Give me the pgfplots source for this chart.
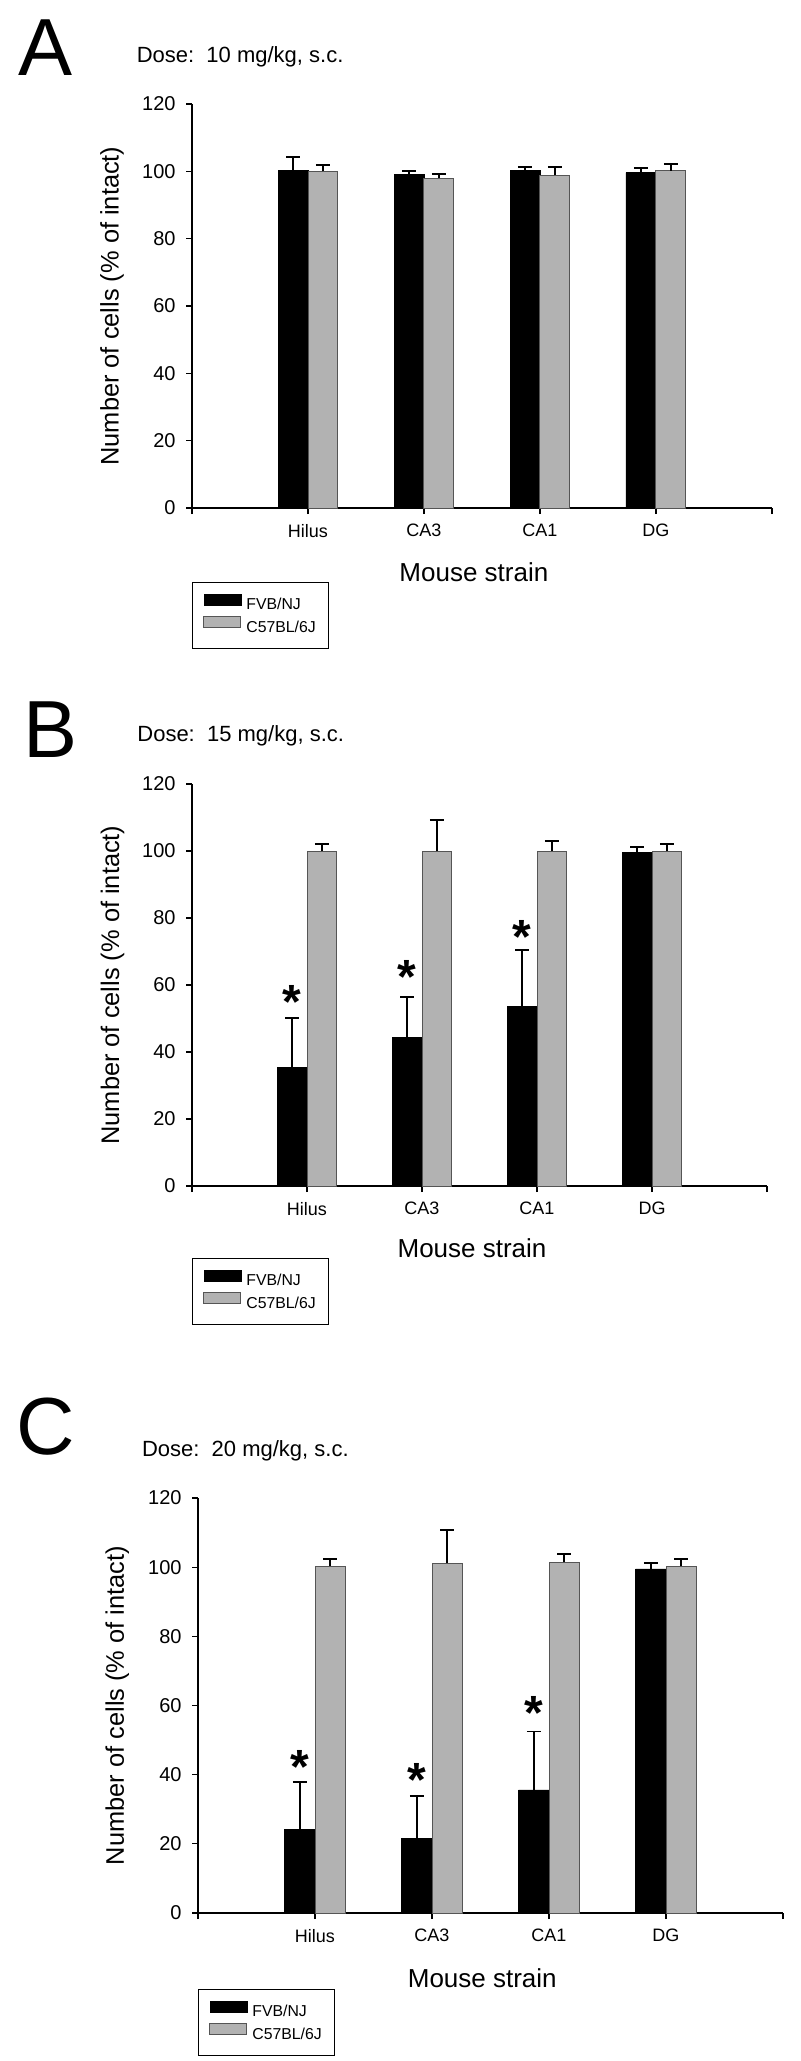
\documentclass[border=0pt]{standalone}
\usepackage{fontspec}
\setmainfont{Liberation Sans}
\usepackage{pgfplots}
\pgfplotsset{compat=1.18}
\usepackage{pgfplotstable}

\definecolor{barGray}{RGB}{178,178,178}
\definecolor{edgeGray}{RGB}{85,85,85}

% Panel A: 10 mg/kg
\pgfplotstableread{
x y e
1 100.2 4.1
2 99.2 1.0
3 100.2 1.2
4 99.6 1.3
}\AFVB
\pgfplotstableread{
x y e
1 100.0 2.0
2 98.0 1.2
3 98.9 2.4
4 100.2 1.9
}\ACfs
% Panel B: 15 mg/kg
\pgfplotstableread{
x y e
1 35.4 14.8
2 44.3 12.2
3 53.5 16.9
4 99.5 1.6
}\BFVB
\pgfplotstableread{
x y e
1 100.0 2.1
2 100.0 9.2
3 100.0 3.0
4 100.0 2.0
}\BCfs
\pgfplotstableread{
x y
0.871 58.0
1.871 65.5
2.871 77.4
}\Bstar
% Panel C: 20 mg/kg
\pgfplotstableread{
x y e
1 24.1 13.9
2 21.5 12.4
3 35.6 16.9
4 99.5 1.6
}\CFVB
\pgfplotstableread{
x y e
1 100.3 2.0
2 101.1 9.6
3 101.4 2.4
4 100.3 2.0
}\CCfs
\pgfplotstableread{
x y
0.871 45.0
1.871 41.4
2.871 60.6
}\Cstar

\pgfplotsset{
  panel/.style n args={3}{
    scale only axis,
    xmin=0, xmax=5, ymin=0, ymax=120,
    axis lines=left,
    axis line style={-, line width=1pt},
    xtick={0,1,2,3,4,5},
    xticklabels={{},Hilus,CA3,CA1,DG,{}},
    ytick={0,20,...,120},
    tick align=outside,
    major tick length=3pt,
    tick style={black, line width=0.6pt},
    /pgf/number format/assume math mode=true,
    yticklabel style={font=\fontsize{10}{11}\selectfont, inner sep=0pt, xshift=-5pt},
    xticklabel style={font=\fontsize{9}{10}\selectfont, inner sep=0pt, yshift=-5pt},
    xlabel={Mouse strain},
    ylabel={Number of cells (\% of intact)},
    xlabel style={font=\fontsize{13}{14}\selectfont, at={(axis description cs:#1,#2)}, anchor=center},
    ylabel style={font=\fontsize{12.7}{13}\selectfont, at={(axis description cs:-0.138,0.5)}, anchor=center},
    legend cell align=left,
    legend style={at={(axis description cs:0,#3)}, anchor=north west, draw=black, thin,
      inner xsep=5.5pt, inner ysep=5.6pt, row sep=0.7pt, column sep=1.5pt,
      font=\fontsize{7.9}{9}\selectfont, nodes={inner sep=1pt}},
  },
  errstyle/.style={error bars/.cd, y dir=plus, y explicit,
    error bar style={line width=0.9pt, black},
    error mark options={rotate=90, black, line width=0.9pt, mark size=3.5pt}},
  fvb/.style={ybar, bar width=0.2586, bar shift=0, fill=black, draw=black, line width=0.4pt,
    legend image code/.code={\draw[##1] (0pt,0.2pt) rectangle (18.5pt,5.7pt);}, errstyle},
  cfs/.style={ybar, bar width=0.2586, bar shift=0, fill=barGray, draw=edgeGray, line width=0.5pt,
    legend image code/.code={\draw[##1] (0pt,0.2pt) rectangle (18.5pt,5.7pt);}, errstyle},
  stars/.style={forget plot, only marks, mark=none, nodes near coords={*},
    every node near coord/.append style={font=\fontsize{24}{24}\selectfont\bfseries, anchor=center, inner sep=0pt, yshift=-5pt}},
}

\begin{document}
\begin{tikzpicture}
\path[use as bounding box] (0,0) rectangle (400pt,-1030.5pt);

% ---------- Panel A ----------
\node[anchor=base west, inner sep=0pt, font=\fontsize{40.5}{41}\selectfont] at (9pt,-37.5pt) {A};
\node[anchor=base west, inner sep=0pt, font=\fontsize{11}{12}\selectfont] at (68.2pt,-31pt) {Dose:\ \ 10 mg/kg, s.c.};
\begin{axis}[panel={0.486}{-0.158}{-0.183}, at={(96pt,-254pt)}, anchor=south west, width=290pt, height=202pt]
\addplot[fvb] table[x expr=\thisrow{x}-0.1293, y=y, y error=e] {\AFVB};
\addlegendentry{\makebox[34.5pt][l]{FVB/NJ}}
\addplot[cfs] table[x expr=\thisrow{x}+0.1293, y=y, y error=e] {\ACfs};
\addlegendentry{\makebox[34.5pt][l]{C57BL/6J}}
\end{axis}

% ---------- Panel B ----------
\node[anchor=base west, inner sep=0pt, font=\fontsize{40.5}{41}\selectfont] at (11.5pt,-378.5pt) {B};
\node[anchor=base west, inner sep=0pt, font=\fontsize{11}{12}\selectfont] at (68.5pt,-370.8pt) {Dose:\ \ 15 mg/kg, s.c.};
\begin{axis}[panel={0.487}{-0.154}{-0.179}, at={(96pt,-593pt)}, anchor=south west, width=287.5pt, height=201pt]
\addplot[fvb] table[x expr=\thisrow{x}-0.1293, y=y, y error=e] {\BFVB};
\addlegendentry{\makebox[34.5pt][l]{FVB/NJ}}
\addplot[cfs] table[x expr=\thisrow{x}+0.1293, y=y, y error=e] {\BCfs};
\addlegendentry{\makebox[34.5pt][l]{C57BL/6J}}
\addplot[stars] table[x=x, y=y] {\Bstar};
\end{axis}

% ---------- Panel C ----------
\node[anchor=base west, inner sep=0pt, font=\fontsize{40.5}{41}\selectfont] at (8pt,-727pt) {C};
\node[anchor=base west, inner sep=0pt, font=\fontsize{11}{12}\selectfont] at (70.8pt,-728.3pt) {Dose:\ \ 20 mg/kg, s.c.};
\begin{axis}[panel={0.486}{-0.158}{-0.183}, at={(99pt,-956.5pt)}, anchor=south west, width=292.5pt, height=207.5pt]
\addplot[fvb] table[x expr=\thisrow{x}-0.1293, y=y, y error=e] {\CFVB};
\addlegendentry{\makebox[34.5pt][l]{FVB/NJ}}
\addplot[cfs] table[x expr=\thisrow{x}+0.1293, y=y, y error=e] {\CCfs};
\addlegendentry{\makebox[34.5pt][l]{C57BL/6J}}
\addplot[stars] table[x=x, y=y] {\Cstar};
\end{axis}
\end{tikzpicture}
\end{document}
